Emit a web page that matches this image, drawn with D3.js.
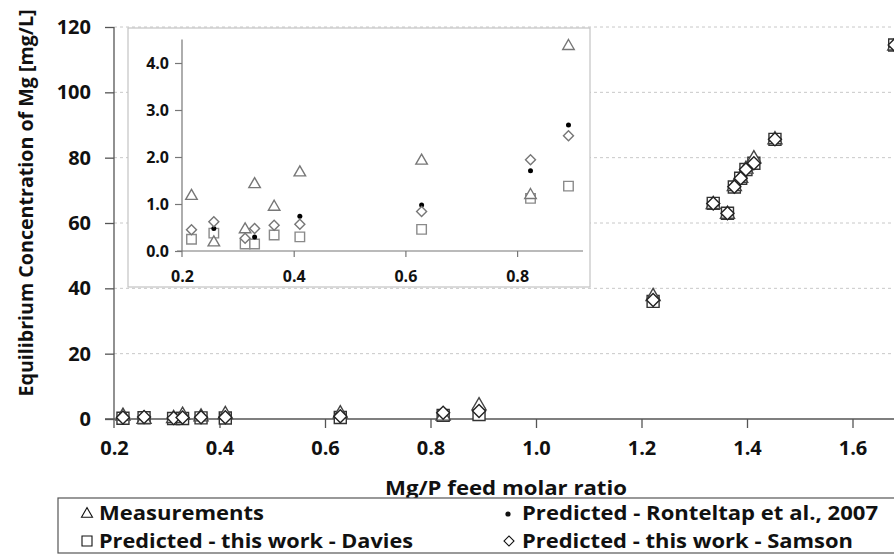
<!DOCTYPE html>
<html>
<head>
<meta charset="utf-8">
<script src="https://d3js.org/d3.v7.min.js"></script>
<style>
  body { margin: 0; background: #fff; }
  svg { display: block; font-family: "Open Sans", sans-serif; font-weight: 700; }
</style>
</head>
<body>
<div id="chart"></div>
<script>
// Size of the picture
var width = 894,
    height = 556;

// Low Mg/P points (shown in the inset and near zero in the main plot)
var lowX = [0.217, 0.257, 0.313, 0.330, 0.365, 0.411, 0.629, 0.824, 0.892];
var measLow = [1.19, 0.20, 0.48, 1.44, 0.96, 1.69, 1.94, 1.21, 4.38];
var rontLow = [0.48, 0.48, 0.27, 0.30, 0.55, 0.74, 0.98, 1.71, 2.68];
var daviesLow = [0.25, 0.38, 0.15, 0.15, 0.34, 0.30, 0.46, 1.12, 1.38];
var samsonLow = [0.45, 0.62, 0.27, 0.48, 0.55, 0.57, 0.84, 1.94, 2.45];

// High Mg/P points (main plot only)
var highX = [1.222, 1.336, 1.363, 1.376, 1.388, 1.398, 1.413, 1.453, 1.68];
var measHigh = [37.8, 66.0, 63.0, 71.5, 74.0, 76.8, 80.0, 85.8, 114.5];
var rontHigh = [36.0, 66.0, 63.0, 71.0, 73.7, 76.4, 78.5, 85.6, 114.5];
var daviesHigh = [36.0, 66.0, 63.0, 71.0, 73.7, 76.4, 78.3, 85.6, 114.5];
var samsonHigh = [36.4, 66.0, 63.0, 71.1, 73.7, 76.4, 78.3, 85.6, 114.5];

// Tick values
var mainXTicks = [0.2, 0.4, 0.6, 0.8, 1.0, 1.2, 1.4, 1.6];
var mainYTicks = [0, 20, 40, 60, 80, 100, 120];
var insetXTicks = [0.2, 0.4, 0.6, 0.8];
var insetYTicks = [0, 1, 2, 3, 4];

var legendLabels = ["Measurements", "Predicted - Ronteltap et al., 2007",
                    "Predicted - this work - Davies", "Predicted - this work - Samson"];

function pairs(xs, ys) {
  return xs.map(function(x, i) { return [x, ys[i]]; });
}

var svg = d3.select("#chart").append("svg")
    .attr("width", width)
    .attr("height", height);

// ---------- main plot ----------
var x = d3.scaleLinear().domain([0.2, 1.8]).range([114, 958]);
var y = d3.scaleLinear().domain([0, 120]).range([419, 27]);

// dashed grid lines
svg.append("g")
  .selectAll("line")
  .data(mainYTicks.slice(1))
  .enter().append("line")
    .attr("x1", 114).attr("x2", width)
    .attr("y1", function(d) { return y(d); })
    .attr("y2", function(d) { return y(d); })
    .attr("stroke", "#c8c8c8")
    .attr("stroke-dasharray", "3,3");

var xAxis = svg.append("g")
    .attr("transform", "translate(0," + y(0) + ")")
    .call(d3.axisBottom(x).tickValues(mainXTicks).tickFormat(d3.format(".1f")).tickSize(9).tickPadding(13).tickSizeOuter(0));
var yAxis = svg.append("g")
    .attr("transform", "translate(" + x(0.2) + ",0)")
    .call(d3.axisLeft(y).tickValues(mainYTicks).tickSize(9).tickPadding(14).tickSizeOuter(0));

[xAxis, yAxis].forEach(function(a) {
  a.select(".domain").attr("stroke", "#555").attr("stroke-width", 1.3);
  a.selectAll(".tick line").attr("stroke", "#555").attr("stroke-width", 1.3);
  a.selectAll("text").attr("fill", "#111").style("font-size", "20px").style("font-weight", 700)
    .style("font-family", "'Open Sans', sans-serif");
});
// the x axis line starts a bit left of the y axis, the y axis a bit below the x axis
xAxis.select(".domain").attr("d", "M" + (x(0.2) - 9) + ",0H" + width);
yAxis.select(".domain").attr("d", "M0," + (y(0) + 9) + "V" + y(120));
xAxis.selectAll(".tick").filter(function(d) { return d === 0.2; }).select("line").remove();

// axis titles
svg.append("text")
    .attr("x", 506).attr("y", 495)
    .attr("text-anchor", "middle")
    .style("font-size", "20px")
    .attr("textLength", 242)
    .attr("lengthAdjust", "spacingAndGlyphs")
    .attr("fill", "#111")
    .text("Mg/P feed molar ratio");
svg.append("text")
    .attr("transform", "translate(33,203) rotate(-90)")
    .attr("text-anchor", "middle")
    .style("font-size", "19px")
    .attr("textLength", 387)
    .attr("lengthAdjust", "spacingAndGlyphs")
    .attr("fill", "#111")
    .text("Equilibrium Concentration of Mg [mg/L]");

var squareSym = d3.symbol().type(d3.symbolSquare);
var triSym = d3.symbol().type(d3.symbolTriangle);

function drawSeries(g, sx, sy, data, kind, s) {
  var sel = g.append("g").selectAll("path").data(data).enter().append("path");
  if (kind === "square") {
    sel.attr("d", squareSym.size(s * s)())
       .attr("transform", function(d) { return "translate(" + sx(d[0]) + "," + sy(d[1]) + ")"; })
       .attr("fill", "#fff").attr("stroke", g.sqColor).attr("stroke-width", 1.4);
  } else if (kind === "tri") {
    sel.attr("d", triSym.size(s * s * 0.433)())
       .attr("transform", function(d) { return "translate(" + sx(d[0]) + "," + (sy(d[1]) + 1) + ")"; })
       .attr("fill", "#fff").attr("stroke", g.triColor).attr("stroke-width", 1.4);
  } else if (kind === "diamond") {
    sel.attr("d", squareSym.size(s * s / 2)())
       .attr("transform", function(d) { return "translate(" + sx(d[0]) + "," + sy(d[1]) + ") rotate(45)"; })
       .attr("fill", "#fff").attr("stroke", g.diaColor).attr("stroke-width", 1.4);
  } else {
    g.append("g").selectAll("circle").data(data).enter().append("circle")
       .attr("cx", function(d) { return sx(d[0]); })
       .attr("cy", function(d) { return sy(d[1]); })
       .attr("r", s / 2)
       .attr("fill", "#000");
    sel.remove();
  }
}

var mainMarks = svg.append("g");
mainMarks.sqColor = "#333"; mainMarks.triColor = "#444"; mainMarks.diaColor = "#222";
var allX = lowX.concat(highX);
drawSeries(mainMarks, x, y, pairs(allX, daviesLow.concat(daviesHigh)), "square", 12);
drawSeries(mainMarks, x, y, pairs(allX, measLow.concat(measHigh)), "tri", 14);
drawSeries(mainMarks, x, y, pairs(allX, rontLow.concat(rontHigh)), "dot", 5);
drawSeries(mainMarks, x, y, pairs(allX, samsonLow.concat(samsonHigh)), "diamond", 13);

// ---------- inset ----------
svg.append("rect")
    .attr("x", 128).attr("y", 28)
    .attr("width", 462).attr("height", 259)
    .attr("fill", "#fff")
    .attr("stroke", "#c4c4c4")
    .attr("stroke-width", 1.2);

var ix = d3.scaleLinear().domain([0.2, 0.918]).range([182, 583]);
var iy = d3.scaleLinear().domain([0, 4.5]).range([251, 39.5]);

var ixAxis = svg.append("g")
    .attr("transform", "translate(0," + iy(0) + ")")
    .call(d3.axisBottom(ix).tickValues(insetXTicks).tickFormat(d3.format(".1f")).tickSize(6).tickPadding(14).tickSizeOuter(0));
var iyAxis = svg.append("g")
    .attr("transform", "translate(" + ix(0.2) + ",0)")
    .call(d3.axisLeft(iy).tickValues(insetYTicks).tickFormat(d3.format(".1f")).tickSize(7).tickPadding(6).tickSizeOuter(0));
[ixAxis, iyAxis].forEach(function(a) {
  a.select(".domain").attr("stroke", "#777").attr("stroke-width", 1.2);
  a.selectAll(".tick line").attr("stroke", "#777").attr("stroke-width", 1.2);
  a.selectAll("text").attr("fill", "#111").style("font-size", "16px").style("font-weight", 700)
    .style("font-family", "'Open Sans', sans-serif");
});
ixAxis.select(".domain").attr("d", "M" + (ix(0.2) - 5) + ",0H" + ix(0.918));
iyAxis.select(".domain").attr("d", "M0," + (iy(0) + 6) + "V" + iy(4.5));
ixAxis.selectAll(".tick").filter(function(d) { return d === 0.2; }).select("line").remove();

var insetMarks = svg.append("g");
insetMarks.sqColor = "#8a8a8a"; insetMarks.triColor = "#777"; insetMarks.diaColor = "#777";
drawSeries(insetMarks, ix, iy, pairs(lowX, daviesLow), "square", 9.5);
drawSeries(insetMarks, ix, iy, pairs(lowX, measLow), "tri", 11.5);
drawSeries(insetMarks, ix, iy, pairs(lowX, rontLow), "dot", 5);
drawSeries(insetMarks, ix, iy, pairs(lowX, samsonLow), "diamond", 10);

// ---------- legend ----------
var legend = svg.append("g");
legend.append("rect")
    .attr("x", 58).attr("y", 498)
    .attr("width", 900).attr("height", 55)
    .attr("fill", "#fff")
    .attr("stroke", "#555")
    .attr("stroke-width", 1.2);

var legendPos = [[80, 513], [503, 513], [80, 541], [503, 541]];
var legendKinds = ["tri", "dot", "square", "diamond"];
var legendWidths = [165, 356, 314, 331];
legendLabels.forEach(function(label, i) {
  var p = legendPos[i], kind = legendKinds[i];
  var g = legend.append("g").attr("transform", "translate(" + p[0] + "," + p[1] + ")");
  if (kind === "tri") {
    g.append("path").attr("d", triSym.size(11 * 11 * 0.433)()).attr("transform", "translate(7,1)")
      .attr("fill", "none").attr("stroke", "#111").attr("stroke-width", 1.1);
  } else if (kind === "square") {
    g.append("path").attr("d", squareSym.size(100)()).attr("transform", "translate(7,0)")
      .attr("fill", "none").attr("stroke", "#111").attr("stroke-width", 1.1);
  } else if (kind === "diamond") {
    g.append("path").attr("d", squareSym.size(50)()).attr("transform", "translate(6,0) rotate(45)")
      .attr("fill", "none").attr("stroke", "#111").attr("stroke-width", 1.1);
  } else {
    g.append("circle").attr("cx", 5).attr("cy", 1).attr("r", 2.6).attr("fill", "#111");
  }
  g.append("text")
    .attr("x", 19).attr("y", 7)
    .style("font-size", "19px")
    .attr("textLength", legendWidths[i])
    .attr("lengthAdjust", "spacingAndGlyphs")
    .attr("fill", "#111")
    .text(label);
});
</script>
</body>
</html>
